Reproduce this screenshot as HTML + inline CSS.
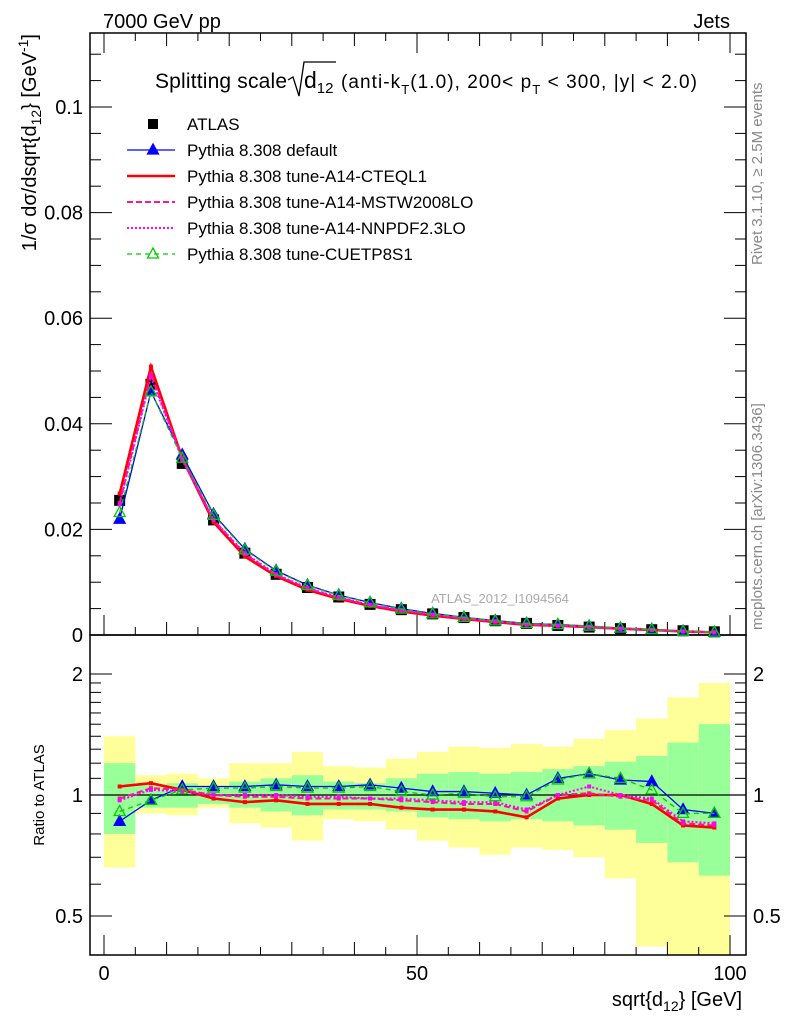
<!DOCTYPE html>
<html><head><meta charset="utf-8"><style>
body{margin:0;background:#fff;}
svg{display:block;font-family:"Liberation Sans",sans-serif;}
</style></head><body>
<svg id="c" width="786" height="1024" viewBox="0 0 786 1024">
<text x="103" y="28" font-size="20">7000 GeV pp</text>
<text x="730" y="28" font-size="20" text-anchor="end">Jets</text>
<text transform="translate(762,265) rotate(-90)" font-size="15" fill="#888">Rivet 3.1.10, ≥ 2.5M events</text>
<text transform="translate(762,630) rotate(-90)" font-size="15" fill="#888">mcplots.cern.ch [arXiv:1306.3436]</text>
<text transform="translate(36,34) rotate(-90)" font-size="20" text-anchor="end">1/σ dσ/dsqrt{d<tspan font-size="14" dy="5">12</tspan><tspan dy="-5">} [GeV</tspan><tspan font-size="14" dy="-8">-1</tspan><tspan dy="8">]</tspan></text>
<text transform="translate(44,795) rotate(-90)" font-size="15" text-anchor="middle">Ratio to ATLAS</text>
<text x="742" y="1006" font-size="20" text-anchor="end">sqrt{d<tspan font-size="14" dy="5">12</tspan><tspan dy="-5">} [GeV]</tspan></text>
<text x="155" y="88" font-size="21" textLength="132">Splitting scale</text>
<path d="M288,80 L293,77 L299,96 L304,62 L336,62" fill="none" stroke="#000" stroke-width="1.3"/>
<text x="304" y="88" font-size="23">d<tspan font-size="15" dy="5">12</tspan></text>
<text x="341" y="88" font-size="19" textLength="356">(anti-k<tspan font-size="13" dy="6">T</tspan><tspan dy="-6">(1.0), 200&lt; p</tspan><tspan font-size="13" dy="6">T</tspan><tspan dy="-6"> &lt; 300, |y| &lt; 2.0)</tspan></text>
<text x="500" y="603" font-size="13" fill="#aaa" text-anchor="middle">ATLAS_2012_I1094564</text>
<g id="g"></g>
</svg>
<script>
const binEdges=[0,5,10,15,20,25,30,35,40,45,50,55,60,65,70,75,80,85,90,95,100];
const atlas=[0.0255,0.0475,0.0325,0.0218,0.0155,0.0115,0.0090,0.0072,0.0058,0.0048,0.0040,0.0033,0.0027,0.0022,0.0018,0.0015,0.0012,0.0010,0.0008,0.0006];
const rDefault=[0.86,0.97,1.05,1.05,1.05,1.06,1.05,1.05,1.06,1.04,1.02,1.02,1.01,1.00,1.10,1.13,1.09,1.08,0.92,0.90];
const rCTEQ=[1.05,1.07,1.03,0.98,0.96,0.97,0.95,0.95,0.95,0.93,0.92,0.92,0.91,0.88,0.98,1.00,1.00,0.95,0.84,0.83];
const rMSTW=[0.98,1.04,1.03,1.00,0.99,0.99,0.98,0.98,0.98,0.97,0.96,0.95,0.95,0.91,1.00,1.01,0.99,0.97,0.85,0.84];
const rNNPDF=[0.97,1.03,1.02,1.00,1.00,1.00,0.99,0.99,0.98,0.98,0.97,0.96,0.96,0.92,1.00,1.05,1.00,0.98,0.86,0.85];
const rCUETP=[0.91,0.97,1.03,1.04,1.04,1.05,1.04,1.04,1.05,1.02,1.00,1.01,0.99,0.99,1.09,1.13,1.10,1.03,0.90,0.90];
const yelUp=[1.40,1.12,1.13,1.10,1.20,1.20,1.28,1.18,1.17,1.23,1.28,1.32,1.31,1.34,1.32,1.38,1.45,1.55,1.75,1.90];
const yelLo=[0.66,0.90,0.89,0.93,0.85,0.83,0.77,0.87,0.86,0.82,0.77,0.74,0.71,0.74,0.73,0.70,0.62,0.42,0.38,0.35];
const grnUp=[1.20,1.06,1.07,1.05,1.08,1.10,1.12,1.08,1.07,1.10,1.13,1.14,1.13,1.14,1.16,1.18,1.21,1.25,1.35,1.50];
const grnLo=[0.80,0.93,0.93,0.95,0.93,0.91,0.89,0.92,0.92,0.91,0.88,0.87,0.86,0.87,0.86,0.84,0.82,0.76,0.68,0.63];
const yMainTicks=[0,0.02,0.04,0.06,0.08,0.1];
const xTicks=[0,50,100];
const rTicks=[0.5,1,2];

const NS="http://www.w3.org/2000/svg", g=document.getElementById('g');
const L=90,R=746,T1=33,B1=635,B2=955;
const X=v=>104+v*6.26;
const Y=v=>635-v*5280;
const YR=v=>795-Math.log10(v)*402;
function el(t,a,p){const e=document.createElementNS(NS,t);for(const k in a)e.setAttribute(k,a[k]);(p||g).appendChild(e);return e;}
const centers=binEdges.slice(0,-1).map((e,i)=>(e+binEdges[i+1])/2);

const cp=el('clipPath',{id:'rc'});el('rect',{x:L,y:B1,width:R-L,height:B2-B1},cp);
const bandG=el('g',{'clip-path':'url(#rc)'});


for(let i=0;i<20;i++){
  const r=el('rect',{x:X(binEdges[i]),y:YR(yelUp[i]),width:X(binEdges[i+1])-X(binEdges[i]),height:YR(yelLo[i])-YR(yelUp[i]),fill:'#ffff99'},bandG);
  
  
  const q=el('rect',{x:X(binEdges[i]),y:YR(grnUp[i]),width:X(binEdges[i+1])-X(binEdges[i]),height:YR(grnLo[i])-YR(grnUp[i]),fill:'#99ff99'},bandG);
  
  
}
const one=el('line',{x1:L,x2:R,y1:YR(1),y2:YR(1),stroke:'#000','stroke-width':1.3});



el('rect',{x:L,y:T1,width:R-L,height:B1-T1,fill:'none',stroke:'#000','stroke-width':1.5});
el('rect',{x:L,y:B1,width:R-L,height:B2-B1,fill:'none',stroke:'#000','stroke-width':1.5});

for(let v=0;v<=0.1125;v+=0.005){
  const maj=Math.abs(v/0.02-Math.round(v/0.02))<1e-6, len=maj?22:11;
  el('line',{x1:L,x2:L+len,y1:Y(v),y2:Y(v),stroke:'#000'});
  el('line',{x1:R,x2:R-len,y1:Y(v),y2:Y(v),stroke:'#000'});
}
yMainTicks.forEach(v=>{const t=el('text',{x:L-7,y:Y(v)+7,'font-size':20,'text-anchor':'end'});t.textContent=v===0?'0':String(v);

});
[0.4,0.5,0.6,0.7,0.8,0.9,1,1.1,1.2,1.3,1.4,1.5,1.6,1.7,1.8,1.9,2].forEach(v=>{
  const maj=rTicks.includes(v),len=maj?22:11;
  el('line',{x1:L,x2:L+len,y1:YR(v),y2:YR(v),stroke:'#000'});
  el('line',{x1:R,x2:R-len,y1:YR(v),y2:YR(v),stroke:'#000'});
});
rTicks.forEach(v=>{
  const t=el('text',{x:L-7,y:YR(v)+7,'font-size':20,'text-anchor':'end'});t.textContent=String(v);
  
  
  const t2=el('text',{x:R+7,y:YR(v)+7,'font-size':20});t2.textContent=String(v);
  
  
});
for(let v=0;v<=100;v+=5){
  const len=v%50===0?20:(v%10===0?13:8);
  [B1,B2].forEach(b=>{el('line',{x1:X(v),x2:X(v),y1:b,y2:b-len,stroke:'#000'});});
  el('line',{x1:X(v),x2:X(v),y1:T1,y2:T1+len,stroke:'#000'});
}
xTicks.forEach(v=>{const t=el('text',{x:X(v),y:980,'font-size':20,'text-anchor':'middle'});t.textContent=String(v);

});

const series=[
 {name:'pythia-default',r:rDefault,c:'#0000ff',w:1.3,d:null,m:'tri'},
 {name:'pythia-a14-cteql1',r:rCTEQ,c:'#ff0000',w:2.6,d:null,m:'sq'},
 {name:'pythia-a14-mstw2008lo',r:rMSTW,c:'#ff1493',w:2,d:'6,3',m:'sq'},
 {name:'pythia-a14-nnpdf23lo',r:rNNPDF,c:'#ff00ff',w:2,d:'2,2',m:'sq'},
 {name:'pythia-cuetp8s1',r:rCUETP,c:'#00cc00',w:1.3,d:'5,4',m:'otri'}];
function marker(type,x,y,c,parent){
  if(type==='tri'||type==='otri'){
    el('path',{d:`M${x},${y-6}L${x+5.5},${y+4}L${x-5.5},${y+4}Z`,fill:type==='tri'?c:'none',stroke:c,'stroke-width':1.3},parent);
  } else el('rect',{x:x-2,y:y-2,width:4,height:4,fill:c},parent);
}
function drawSeries(s,mainVals,ratioVals){
  const sg=el('g',{});
  
  
  const a={fill:'none',stroke:s.c,'stroke-width':s.w};if(s.d)a['stroke-dasharray']=s.d;
  el('polyline',Object.assign({points:centers.map((c,i)=>X(c)+','+Y(mainVals[i])).join(' ')},a),sg);
  el('polyline',Object.assign({points:centers.map((c,i)=>X(c)+','+YR(ratioVals[i])).join(' ')},a),sg);
  centers.forEach((c,i)=>{marker(s.m,X(c),Y(mainVals[i]),s.c,sg);marker(s.m,X(c),YR(ratioVals[i]),s.c,sg);});
}
const dg=el('g',{});


centers.forEach((c,i)=>el('rect',{x:X(c)-5.5,y:Y(atlas[i])-5.5,width:11,height:11,fill:'#000'},dg));
series.forEach(s=>drawSeries(s,atlas.map((v,i)=>v*s.r[i]),s.r));

const lg=el('g',{});


const labels=['ATLAS','Pythia 8.308 default','Pythia 8.308 tune-A14-CTEQL1','Pythia 8.308 tune-A14-MSTW2008LO','Pythia 8.308 tune-A14-NNPDF2.3LO','Pythia 8.308 tune-CUETP8S1'];
labels.forEach((lab,i)=>{
  const y=124+i*26;
  const e=el('g',{},lg);
  
  
  if(i===0) el('rect',{x:148,y:y-5,width:10,height:10,fill:'#000'},e);
  else{
    const s=series[i-1];const a={x1:127,x2:175,y1:y,y2:y,stroke:s.c,'stroke-width':s.w};if(s.d)a['stroke-dasharray']=s.d;
    el('line',a,e);
    if(s.m==='tri'||s.m==='otri')marker(s.m,153,y,s.c,e);
  }
  const t=el('text',{x:187,y:y+6,'font-size':17},e);t.textContent=lab;
});
</script>
</body></html>
